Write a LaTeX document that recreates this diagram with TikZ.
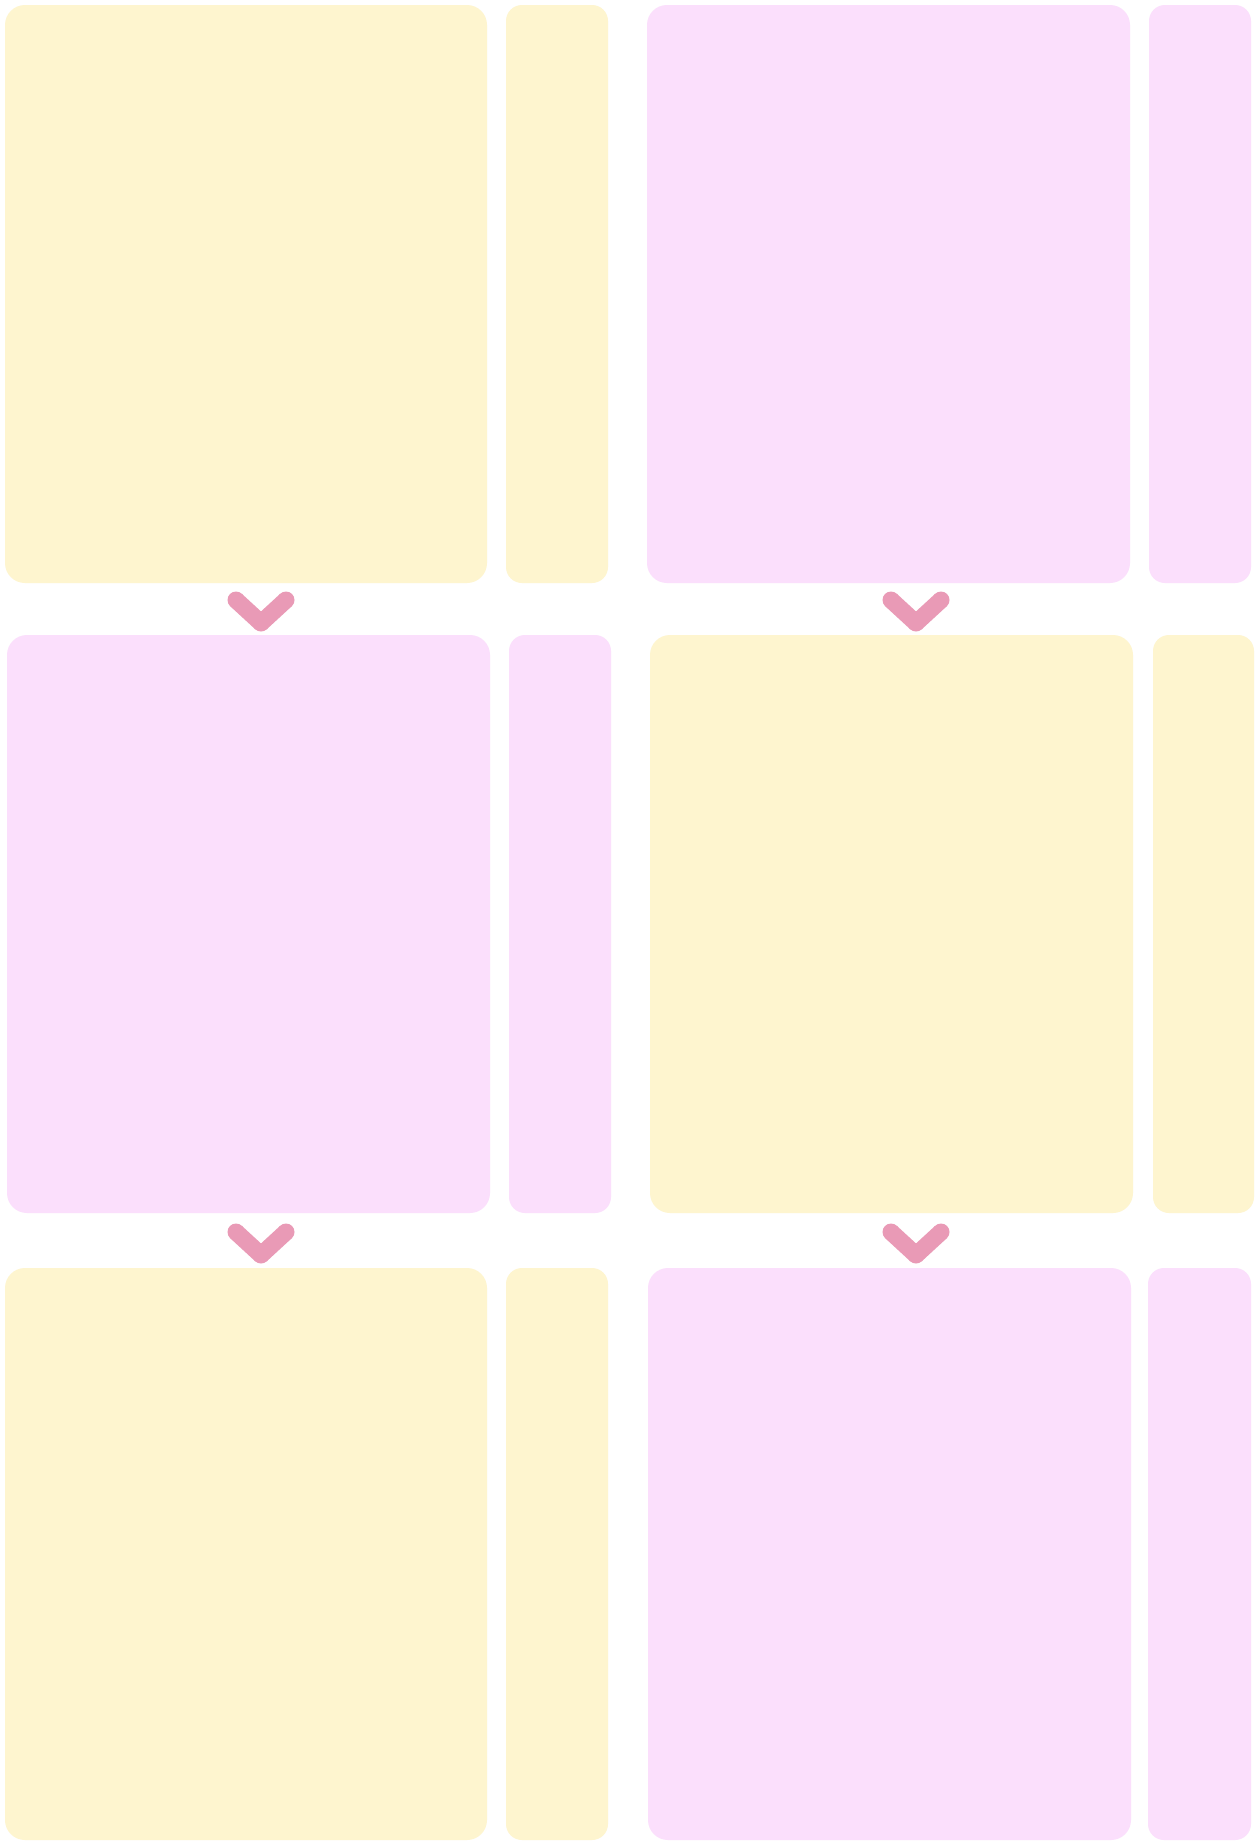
\documentclass[tikz,border=0pt]{standalone}
\begin{document}
\begin{tikzpicture}[x=1pt,y=-1pt,
  yel/.style={fill=ylw},
  pnk/.style={fill=pnkc},
  panel/.style={draw=none, rounded corners=20pt, anchor=north west, inner sep=0pt, outer sep=0pt},
  slim/.style={draw=none, rounded corners=16pt, anchor=north west, inner sep=0pt, outer sep=0pt},
  chevfill/.style={fill=chevc, draw=none}]
\definecolor{ylw}{HTML}{FEF5CF}
\definecolor{pnkc}{HTML}{FBDFFC}
\definecolor{chevc}{HTML}{E99AB6}
\path[use as bounding box, fill=white] (0,0) rectangle (1259,1842);
% row 1
\node[panel,yel,minimum width=482pt,minimum height=578pt] (a1) at (5,5) {};
\node[slim,yel,minimum width=102pt,minimum height=578pt] (a1s) at (506,5) {};
\node[panel,pnk,minimum width=483pt,minimum height=578pt] (b1) at (647,5) {};
\node[slim,pnk,minimum width=102pt,minimum height=578pt] (b1s) at (1149,5) {};
% row 2
\node[panel,pnk,minimum width=483pt,minimum height=578pt] (a2) at (7,635) {};
\node[slim,pnk,minimum width=102pt,minimum height=578pt] (a2s) at (509,635) {};
\node[panel,yel,minimum width=483pt,minimum height=578pt] (b2) at (650,635) {};
\node[slim,yel,minimum width=101pt,minimum height=578pt] (b2s) at (1153,635) {};
% row 3
\node[panel,yel,minimum width=482pt,minimum height=572pt] (a3) at (5,1268) {};
\node[slim,yel,minimum width=102pt,minimum height=572pt] (a3s) at (506,1268) {};
\node[panel,pnk,minimum width=483pt,minimum height=572pt] (b3) at (648,1268) {};
\node[slim,pnk,minimum width=103pt,minimum height=572pt] (b3s) at (1148,1268) {};
% chevrons
\foreach \cx/\cy in {261/600, 916/600, 261/1232, 916/1232}{
  \begin{scope}[shift={(\cx,\cy)}]
    \fill[chevfill] (-30.75,6.26) -- (-5.75,29.26) -- (5.75,29.26) -- (30.75,6.26)
      -- (19.25,-6.26) -- (0,11.45) -- (-19.25,-6.26) -- cycle;
    \fill[chevfill] (-25,0) circle[radius=8.5];
    \fill[chevfill] (25,0) circle[radius=8.5];
    \fill[chevfill] (0,23) circle[radius=8.5];
  \end{scope}
}
\end{tikzpicture}
\end{document}
